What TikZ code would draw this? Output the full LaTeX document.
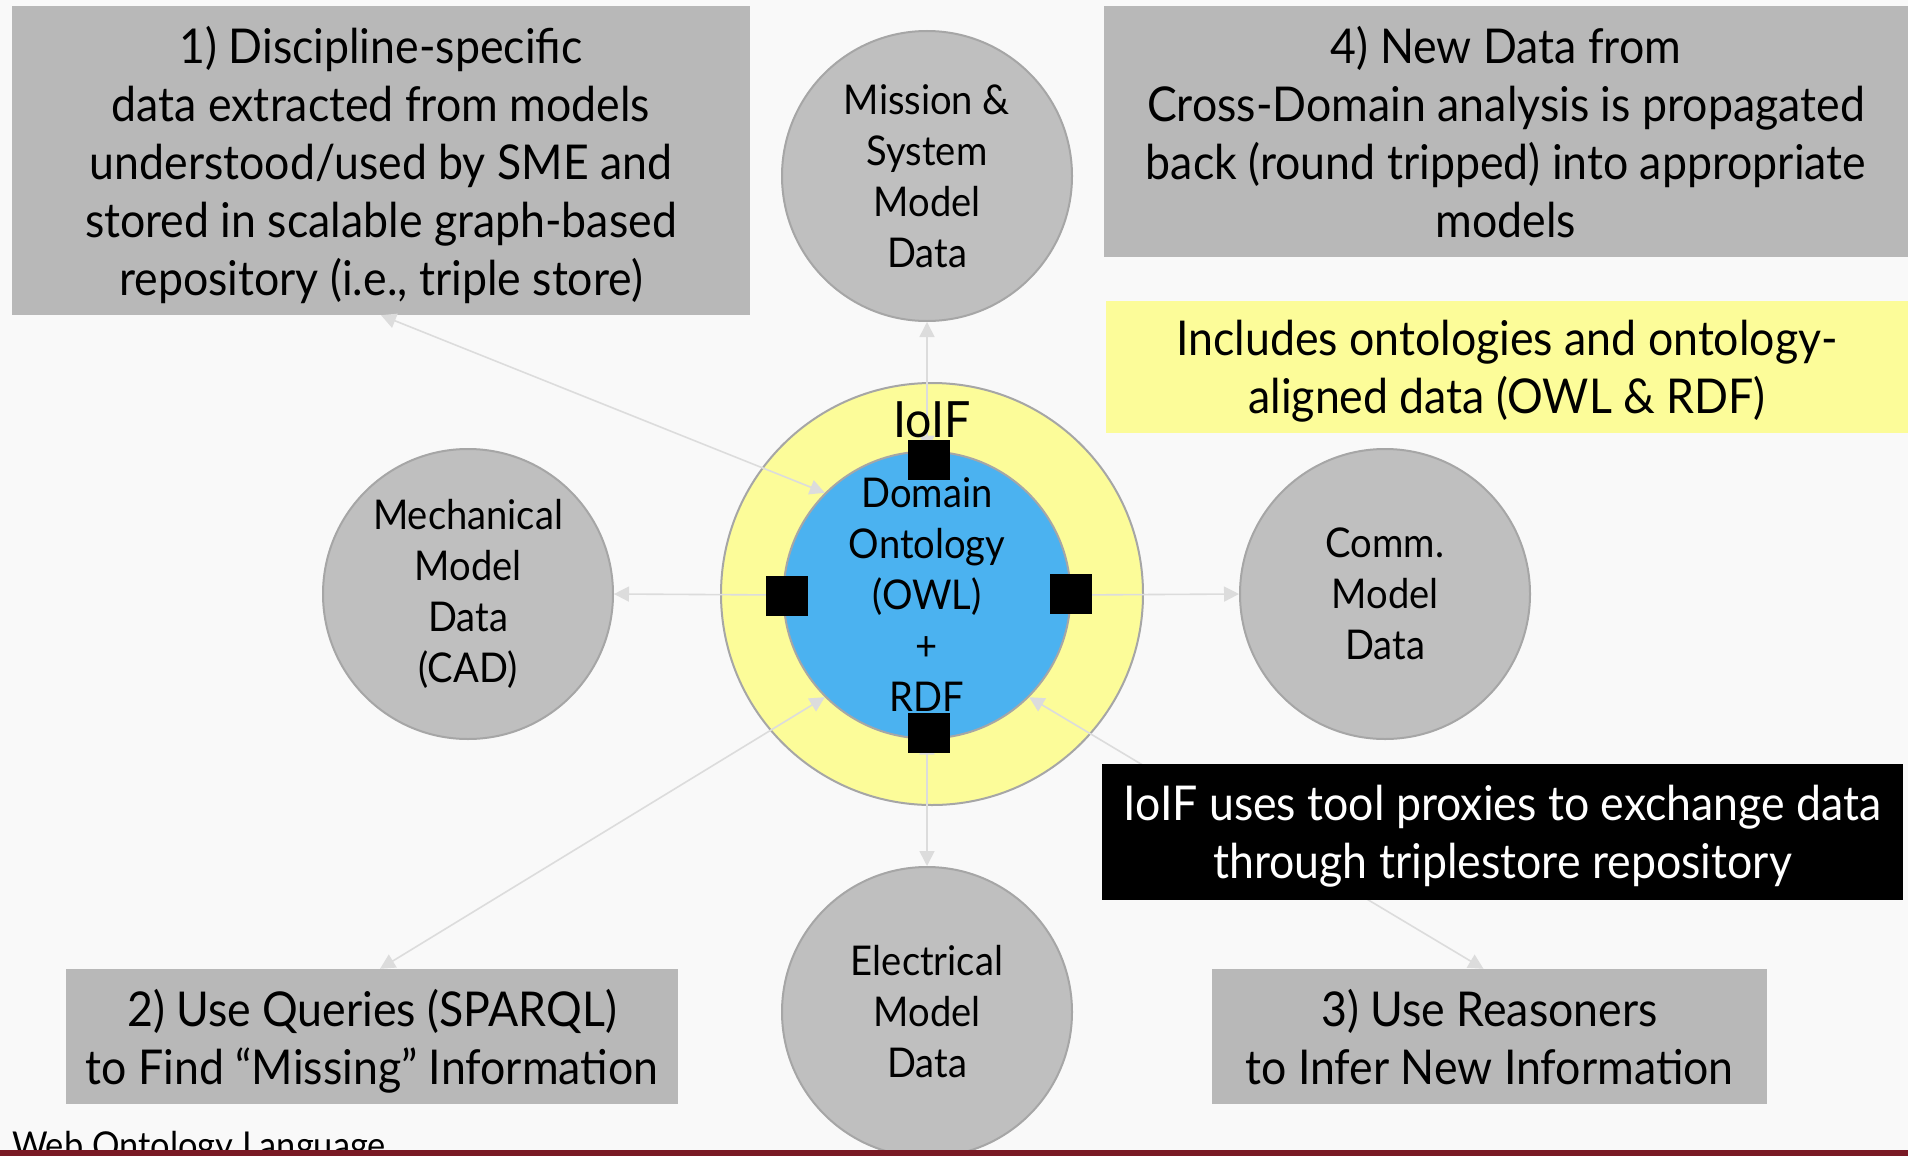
\documentclass[tikz,border=0pt]{standalone}
\usepackage{fontspec}
\setmainfont{Lato}[FakeStretch=0.93]
\usetikzlibrary{arrows.meta}
\definecolor{bg}{HTML}{F9F9F9}
\definecolor{boxgray}{HTML}{B8B8B8}
\definecolor{circgray}{HTML}{BFBFBF}
\definecolor{edgegray}{HTML}{A6A6A6}
\definecolor{ringyellow}{HTML}{FCFC99}
\definecolor{coreblue}{HTML}{4BB2F0}
\definecolor{linkgray}{HTML}{DCDCDC}
\definecolor{barred}{HTML}{7A1A25}
\tikzset{
  infobox/.style={rectangle, fill=boxgray, inner sep=0pt, align=center,
    text depth=0pt, font=\fontsize{48}{58}\selectfont},
  modelcirc/.style={circle, fill=circgray, draw=edgegray, line width=2pt,
    minimum size=290pt, inner sep=0pt, align=center,
    execute at begin node={\rule{0pt}{38pt}},
    font=\fontsize{41}{51}\selectfont},
  proxy/.style={rectangle, fill=black, minimum width=42pt, minimum height=40pt, inner sep=0pt},
  link/.style={draw=linkgray, line width=1.6pt,
    {Triangle[length=15pt,width=15pt]}-{Triangle[length=15pt,width=15pt]}}
}
\begin{document}
\begin{tikzpicture}[x=1pt,y=-1pt]
\useasboundingbox (0,0) rectangle (1908,1156);
\fill[bg] (0,0) rectangle (1908,1156);

% text boxes
\node[infobox, minimum width=738pt, minimum height=309pt] (box1) at (381,160.5)
  {1) Discipline-specific\\data extracted from models\\understood/used by SME and\\stored in scalable graph-based\\repository (i.e., triple store)};
\node[infobox, minimum width=804pt, minimum height=251pt] (box4) at (1506,131.5)
  {4) New Data from\\Cross-Domain analysis is propagated\\back (round tripped) into appropriate\\models};
\node[infobox, fill=ringyellow, minimum width=802pt, minimum height=132pt] (note) at (1507,367)
  {Includes ontologies and ontology-\\aligned data (OWL \& RDF)};
\node[infobox, minimum width=612pt, minimum height=135pt] (box2) at (372,1036.5)
  {2) Use Queries (SPARQL)\\to Find “Missing” Information};
\node[infobox, minimum width=555pt, minimum height=135pt] (box3) at (1489.5,1036.5)
  {3) Use Reasoners\\to Infer New Information};

% model circles
\node[modelcirc] (mission) at (927,176) {Mission \&\\System\\Model\\Data};
\node[modelcirc] (mech) at (468,594) {Mechanical\\Model\\Data\\(CAD)};
\node[modelcirc] (comm) at (1385,594) {Comm.\\Model\\Data};
\node[modelcirc] (elec) at (927,1012) {Electrical\\Model\\Data};

% IoIF core
\node[circle, fill=ringyellow, draw=edgegray, line width=2pt, minimum size=422pt, inner sep=0pt] (outer) at (932,594) {};
\node[modelcirc, fill=coreblue, minimum size=287pt] (inner) at (927,595)
  {Domain\\Ontology\\(OWL)\\+\\RDF};

% connectors
\draw[link] (inner.north) -- (mission.south);
\draw[link] (inner.west) -- (mech.east);
\draw[link] (inner.east) -- (comm.west);
\draw[link] (inner.south) -- (elec.north);
\draw[link] (inner.135) -- (box1.south);
\draw[link] (inner.225) -- ([xshift=8pt]box2.north);
\draw[link] (inner.-45) -- ([xshift=-6pt]box3.north);

% tool proxies
\node[proxy] (sqT) at (929,460) {};
\node[proxy] (sqL) at (787,596) {};
\node[proxy] (sqR) at (1071,594) {};
\node[proxy] (sqB) at (929,733) {};

\node[font=\fontsize{50}{58}\selectfont, anchor=base, inner sep=0pt] (ioif) at (932,437) {IoIF};

\node[infobox, fill=black, text=white, minimum width=801pt, minimum height=136pt] (proxynote) at (1502.5,832)
  {IoIF uses tool proxies to exchange data\\through triplestore repository};

\node[font=\fontsize{37}{44}\selectfont, anchor=base west, inner sep=0pt] (owl) at (12,1158) {Web Ontology Language};
\fill[barred] (0,1150) rectangle (1908,1156);
\end{tikzpicture}
\end{document}
